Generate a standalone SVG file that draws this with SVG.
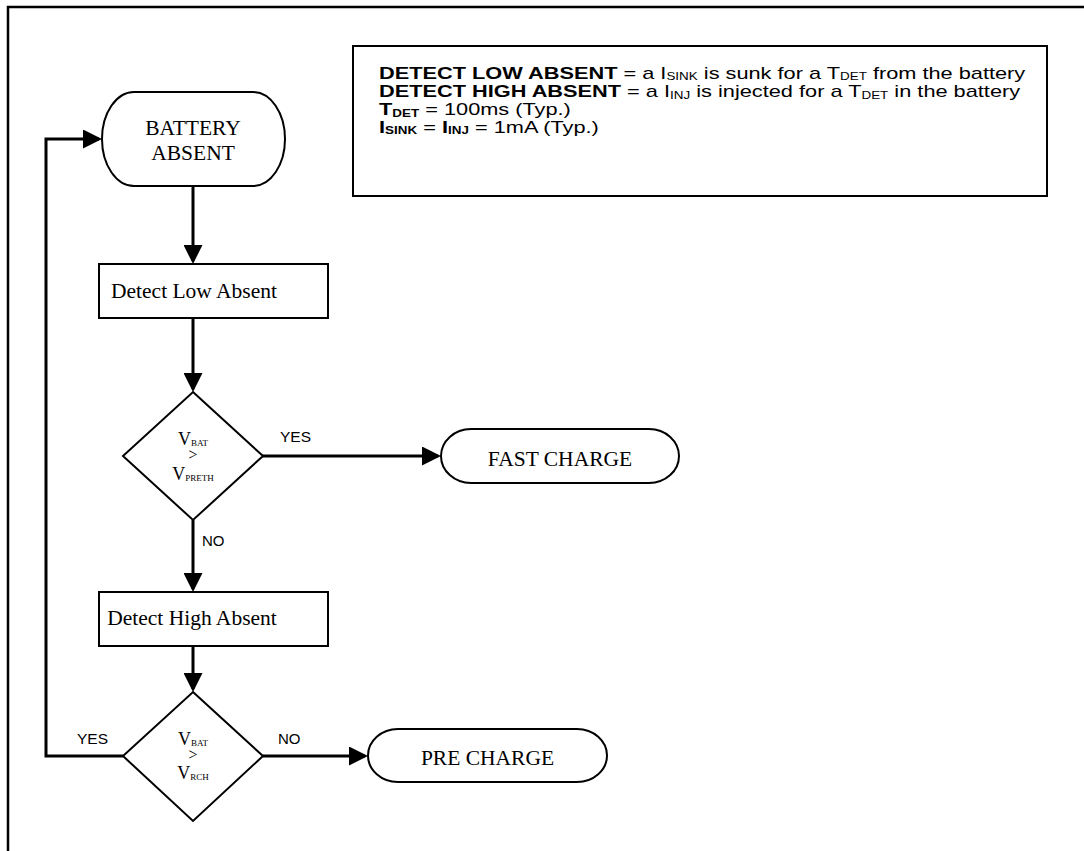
<svg xmlns="http://www.w3.org/2000/svg" width="1084" height="851" viewBox="0 0 1084 851">
<style>
.shape{fill:#fff;stroke:#000;stroke-width:2}
.frame{fill:none;stroke:#000;stroke-width:2.5}
.conn{fill:none;stroke:#000;stroke-width:3}
.tm{font-family:"Liberation Serif","Times New Roman",serif;fill:#000}
.ar{font-family:"Liberation Sans",Arial,sans-serif;fill:#000}
.b{font-weight:bold}
</style>
<defs>
<marker id="arr" markerUnits="userSpaceOnUse" markerWidth="19" markerHeight="19" refX="16" refY="9.5" orient="auto">
<path d="M0,0 L19,9.5 L0,19 Z" fill="#000"/>
</marker>
</defs>
<rect width="1084" height="851" fill="#fff"/>
<rect class="frame" x="8" y="7" width="1100" height="900"/>

<g id="note">
<rect class="shape" x="353" y="46" width="694" height="150"/>
<g transform="translate(379,0) scale(1.28,1)" class="ar" font-size="17">
<text x="0" y="79"><tspan class="b">DETECT LOW ABSENT</tspan> = a I<tspan font-size="10.5" dy="1.5">SINK</tspan><tspan dy="-1.5"> is sunk for a T</tspan><tspan font-size="10.5" dy="1.5">DET</tspan><tspan dy="-1.5"> from the battery</tspan></text>
<text x="0" y="97.5"><tspan class="b">DETECT HIGH ABSENT</tspan> = a I<tspan font-size="10.5" dy="1.5">INJ</tspan><tspan dy="-1.5"> is injected for a T</tspan><tspan font-size="10.5" dy="1.5">DET</tspan><tspan dy="-1.5"> in the battery</tspan></text>
<text x="0" y="115.5"><tspan class="b">T</tspan><tspan class="b" font-size="10.5" dy="1.5">DET</tspan><tspan dy="-1.5"> = 100ms (Typ.)</tspan></text>
<text x="0" y="133"><tspan class="b">I</tspan><tspan class="b" font-size="10.5" dy="1.5">SINK</tspan><tspan dy="-1.5"> = </tspan><tspan class="b">I</tspan><tspan class="b" font-size="10.5" dy="1.5">INJ</tspan><tspan dy="-1.5"> = 1mA (Typ.)</tspan></text>
</g>
</g>

<g id="connectors">
<path class="conn" d="M193,186 V261" marker-end="url(#arr)"/>
<path class="conn" d="M193,318 V389" marker-end="url(#arr)"/>
<path class="conn" d="M262,456 H438" marker-end="url(#arr)"/>
<path class="conn" d="M193,520 V589" marker-end="url(#arr)"/>
<path class="conn" d="M193,646 V689" marker-end="url(#arr)"/>
<path class="conn" d="M263,756 H365" marker-end="url(#arr)"/>
<path class="conn" d="M123,756 H46 V139 H99" marker-end="url(#arr)"/>
<text class="ar" x="280" y="442" font-size="15.5">YES</text>
<text class="ar" x="202" y="546" font-size="15">NO</text>
<text class="ar" x="77" y="744" font-size="15.5">YES</text>
<text class="ar" x="278" y="744" font-size="15">NO</text>
</g>

<g id="battery-absent">
<rect class="shape" x="102" y="92" width="183" height="94" rx="32" ry="47"/>
<text class="tm" x="193" y="135" font-size="21.5" text-anchor="middle">BATTERY</text>
<text class="tm" x="193" y="160" font-size="21.5" text-anchor="middle">ABSENT</text>
</g>

<g id="detect-low">
<rect class="shape" x="99" y="264" width="229" height="54"/>
<text class="tm" x="194" y="298" font-size="21.5" text-anchor="middle">Detect Low Absent</text>
</g>

<g id="decision-preth">
<path class="shape" d="M193,392 L263,456 L193,520 L123,456 Z"/>
<text class="tm" x="193" y="445" text-anchor="middle"><tspan font-size="18">V</tspan><tspan font-size="9" dy="1">BAT</tspan></text>
<text class="tm" x="193" y="460" font-size="16" text-anchor="middle">&gt;</text>
<text class="tm" x="193" y="480" text-anchor="middle"><tspan font-size="18">V</tspan><tspan font-size="9" dy="1">PRETH</tspan></text>
</g>

<g id="fast-charge">
<rect class="shape" x="441" y="429" width="238" height="54" rx="30" ry="27"/>
<text class="tm" x="560" y="466" font-size="21.5" text-anchor="middle">FAST CHARGE</text>
</g>

<g id="detect-high">
<rect class="shape" x="99" y="592" width="229" height="54"/>
<text class="tm" x="192" y="625" font-size="21.5" text-anchor="middle">Detect High Absent</text>
</g>

<g id="decision-rch">
<path class="shape" d="M193,692 L263,756 L193,821 L123,756 Z"/>
<text class="tm" x="193" y="745" text-anchor="middle"><tspan font-size="18">V</tspan><tspan font-size="9" dy="1">BAT</tspan></text>
<text class="tm" x="193" y="760" font-size="16" text-anchor="middle">&gt;</text>
<text class="tm" x="193" y="779" text-anchor="middle"><tspan font-size="18">V</tspan><tspan font-size="9" dy="1">RCH</tspan></text>
</g>

<g id="pre-charge">
<rect class="shape" x="368" y="729" width="239" height="53" rx="30" ry="26.5"/>
<text class="tm" x="487.5" y="765" font-size="21.5" text-anchor="middle">PRE CHARGE</text>
</g>
</svg>
